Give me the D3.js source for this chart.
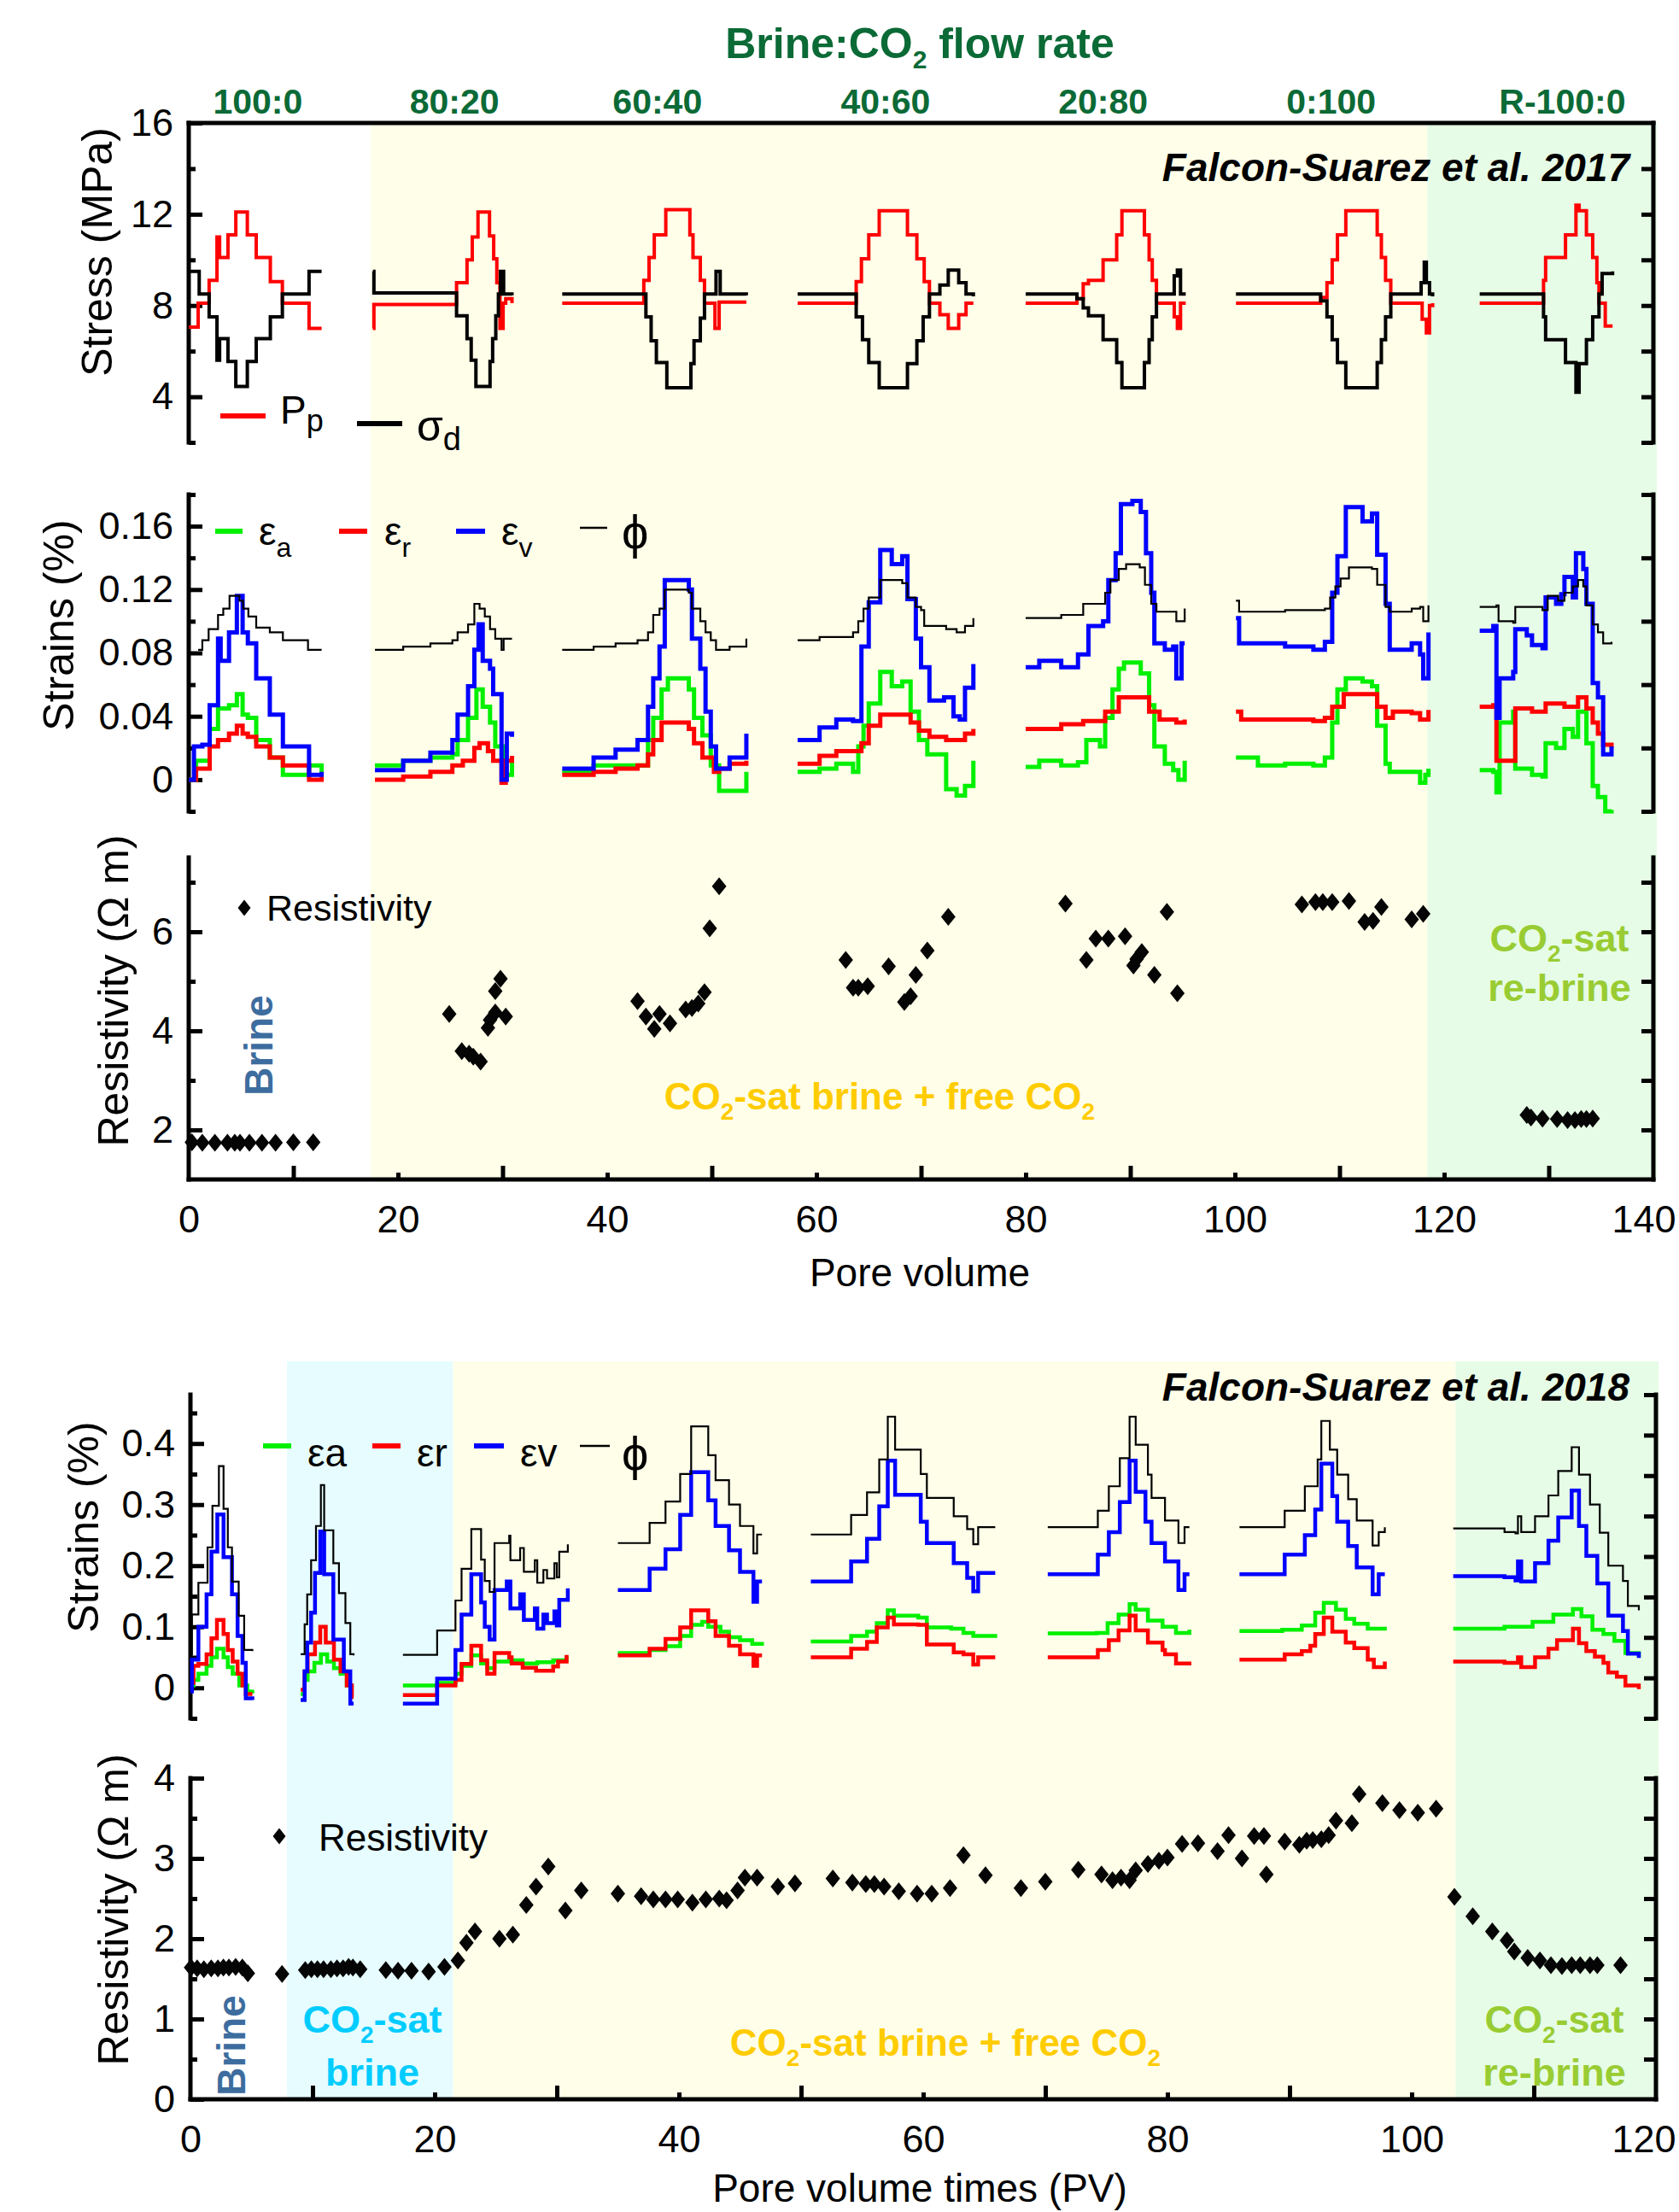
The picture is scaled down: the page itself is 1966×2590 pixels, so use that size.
<!DOCTYPE html>
<html>
<head>
<meta charset="utf-8">
<script src="https://cdn.jsdelivr.net/npm/d3@7"></script>
<style>
html, body { margin: 0; padding: 0; background: #ffffff; }
svg { display: block; }
</style>
</head>
<body>
<svg id="chart" width="1966" height="2590"></svg>
<script>
// ---------------------------------------------------------------
// Data: Falcon-Suarez et al. 2017 (x = pore volume)
// Each series is a list of flooding stages; each stage is [PV, value] steps.
// ---------------------------------------------------------------
const flowRates2017 = ["100:0", "80:20", "60:40", "40:60", "20:80", "0:100", "R-100:0"];
const flowRatePV2017 = [6.6, 25.4, 44.8, 66.6, 87.4, 109.2, 131.3];
const pvTicks2017 = [0, 20, 40, 60, 80, 100, 120, 140];
const zones2017 = [[17.4, 118.4, "mix"], [118.4, 140, "rebrine"]];

// Pore pressure Pp (MPa)
const porePressure2017 = [
  [[0,7.05],[0.9,8.1],[1.95,9.1],[2.7,11.0],[2.95,10.1],[3.75,11.1],[4.5,12.1],[5.6,11.1],[6.45,10.1],[7.8,9.05],[8.95,8.1],[11.5,7.0],[12.7,7.0]],
  [[17.6,7.0],[17.7,8.05],[25.6,9.0],[26.6,10.0],[27.1,11.0],[27.65,12.1],[28.75,11.05],[29.15,10.05],[29.45,9.0],[29.75,7.0],[30.05,8.1],[30.3,8.3],[30.9,8.1]],
  [[35.7,8.1],[43.5,9.1],[44.0,10.1],[44.5,11.1],[45.6,12.2],[47.9,11.1],[48.2,10.1],[48.9,9.1],[49.3,8.1],[50.3,7.0],[50.7,8.15],[53.3,8.15]],
  [[58.2,8.1],[63.8,9.05],[64.3,10.05],[65.0,11.1],[66.0,12.15],[68.7,11.1],[69.6,10.05],[70.3,9.05],[70.8,8.1],[71.8,7.6],[72.6,7.0],[73.6,7.6],[74.3,8.1],[75.0,8.1]],
  [[80.0,8.1],[84.9,8.3],[85.5,8.95],[86.0,9.1],[87.4,10.0],[88.7,11.1],[89.2,12.15],[91.35,11.1],[91.8,10.0],[92.1,9.1],[92.5,8.1],[94.2,7.5],[94.5,7.0],[94.8,8.1],[95.3,8.1]],
  [[100.1,8.1],[108.2,8.35],[108.8,9.0],[109.3,10.0],[109.8,11.1],[110.6,12.15],[113.6,11.1],[114.0,10.1],[114.4,9.1],[114.9,8.1],[117.9,7.4],[118.3,6.8],[118.6,8.0],[118.9,8.1]],
  [[123.4,8.1],[129.5,9.1],[129.7,10.1],[131.6,11.1],[132.6,12.4],[132.9,12.15],[133.6,11.1],[134.2,10.1],[134.6,9.0],[134.8,8.1],[135.4,7.1],[136.1,7.1]]
];
// Differential stress sigma_d (MPa)
const diffStress2017 = [
  [[0,9.5],[1.0,8.5],[1.95,7.5],[2.7,5.6],[2.95,6.55],[3.75,5.55],[4.5,4.45],[5.6,5.55],[6.45,6.55],[7.8,7.5],[8.95,8.5],[11.5,9.5],[12.7,9.5]],
  [[17.6,9.5],[17.7,8.55],[25.6,7.55],[26.6,6.55],[27.0,5.6],[27.45,4.45],[28.8,5.55],[29.05,6.55],[29.35,7.55],[29.6,8.5],[29.8,9.5],[30.1,8.5],[30.9,8.45]],
  [[35.7,8.5],[43.7,7.5],[44.2,6.45],[44.7,5.5],[45.7,4.4],[48.0,5.45],[48.3,6.45],[48.9,7.45],[49.3,8.5],[50.4,9.5],[50.8,8.5],[53.3,8.45]],
  [[58.2,8.5],[63.8,7.5],[64.4,6.5],[65.0,5.5],[66.0,4.4],[68.7,5.45],[69.6,6.45],[70.2,7.5],[70.8,8.5],[71.8,8.9],[72.6,9.55],[73.6,9.0],[74.3,8.5],[75.0,8.4]],
  [[80.0,8.5],[84.9,8.3],[85.5,7.9],[86.0,7.55],[87.4,6.5],[88.7,5.5],[89.2,4.4],[91.35,5.5],[91.8,6.5],[92.1,7.5],[92.5,8.5],[94.2,9.3],[94.5,9.55],[94.8,8.5],[95.3,8.5]],
  [[100.1,8.5],[108.2,8.2],[108.8,7.5],[109.3,6.5],[109.8,5.5],[110.6,4.4],[113.6,5.5],[114.0,6.5],[114.4,7.5],[114.9,8.5],[117.8,9.0],[118.1,9.9],[118.3,9.0],[118.6,8.5],[118.9,8.4]],
  [[123.4,8.5],[129.5,7.5],[129.7,6.5],[131.6,5.5],[132.6,4.2],[132.9,5.45],[133.6,6.5],[134.2,7.5],[134.8,8.5],[135.1,9.4],[136.1,9.5]]
];
// Axial strain (%)
const axialStrain2017 = [
  [[0,0],[0.7,0.012],[2.0,0.032],[2.8,0.045],[3.85,0.047],[4.6,0.054],[5.15,0.041],[5.65,0.039],[6.45,0.025],[7.75,0.014],[9.0,0.003],[11.3,0.003],[11.5,0.009],[12.7,0.004]],
  [[17.8,0.009],[20.5,0.012],[23.1,0.014],[25.2,0.016],[25.7,0.025],[26.7,0.039],[27.5,0.057],[28.1,0.046],[28.8,0.036],[29.3,0.021],[30.1,0.003],[30.9,0.014]],
  [[35.7,0.005],[38.7,0.009],[42.9,0.009],[43.9,0.025],[44.4,0.039],[45.2,0.057],[45.8,0.064],[47.8,0.057],[48.3,0.039],[49.1,0.028],[49.9,0.009],[50.7,-0.007],[53.3,0.005]],
  [[58.2,0.005],[60.3,0.007],[61.9,0.01],[63.5,0.005],[64.0,0.021],[64.5,0.034],[65.0,0.048],[66.1,0.068],[67.2,0.059],[68.2,0.062],[69.0,0.043],[69.8,0.025],[70.6,0.016],[72.4,-0.006],[73.4,-0.01],[74.2,-0.004],[75.0,0.012]],
  [[80.0,0.008],[81.3,0.012],[83.4,0.009],[85.0,0.011],[85.8,0.025],[87.1,0.021],[87.6,0.039],[88.3,0.057],[88.9,0.07],[89.4,0.074],[91.0,0.067],[91.8,0.047],[92.3,0.021],[93.3,0.01],[94.1,0.006],[94.6,0.0],[95.2,0.012]],
  [[100.1,0.014],[102.2,0.009],[104.8,0.01],[107.5,0.009],[108.6,0.014],[109.3,0.036],[109.8,0.057],[110.6,0.064],[112.2,0.062],[113.1,0.059],[113.6,0.034],[114.4,0.01],[114.8,0.005],[116.9,0.005],[117.7,-0.002],[118.2,0.003],[118.5,0.007]],
  [[123.4,0.006],[124.7,0.005],[125.0,-0.008],[125.3,0.036],[126.6,0.043],[126.8,0.007],[128.4,0.003],[129.4,0.002],[129.7,0.023],[130.7,0.02],[131.5,0.032],[132.3,0.027],[132.8,0.043],[133.6,0.023],[134.2,-0.004],[134.7,-0.011],[135.4,-0.02],[136.0,-0.019]]
];
// Radial strain (%)
const radialStrain2017 = [
  [[0,0],[0.7,0.007],[2.0,0.021],[2.8,0.025],[3.85,0.029],[4.6,0.034],[5.15,0.029],[5.65,0.027],[6.45,0.021],[7.75,0.014],[9.0,0.009],[11.3,0.009],[11.5,0.0],[12.7,0.002]],
  [[17.8,0.0],[20.5,0.002],[23.1,0.005],[25.2,0.009],[26.2,0.012],[27.3,0.02],[27.8,0.023],[28.6,0.018],[29.1,0.012],[29.9,-0.002],[30.3,0.012],[30.9,0.015]],
  [[35.7,0.003],[38.7,0.005],[40.8,0.007],[42.9,0.009],[43.9,0.016],[44.4,0.025],[45.2,0.036],[47.8,0.032],[48.3,0.023],[49.1,0.014],[50.2,0.005],[50.7,0.007],[51.7,0.01],[53.3,0.012]],
  [[58.2,0.01],[60.3,0.015],[61.9,0.018],[63.5,0.018],[64.3,0.023],[65.0,0.034],[66.1,0.041],[68.2,0.041],[69.0,0.036],[69.8,0.031],[70.8,0.027],[72.4,0.025],[74.2,0.029],[75.0,0.032]],
  [[80.0,0.032],[83.4,0.035],[85.5,0.037],[87.6,0.043],[88.9,0.052],[90.8,0.052],[91.8,0.043],[92.8,0.038],[94.4,0.036],[95.2,0.038]],
  [[100.1,0.043],[100.6,0.038],[107.5,0.037],[108.6,0.039],[109.3,0.046],[110.4,0.054],[113.1,0.054],[113.6,0.046],[114.4,0.039],[115.1,0.043],[116.9,0.042],[117.7,0.038],[118.5,0.044]],
  [[123.4,0.046],[124.7,0.047],[125.0,0.012],[126.6,0.012],[126.8,0.045],[128.4,0.043],[129.7,0.048],[131.5,0.046],[132.8,0.052],[133.6,0.045],[134.2,0.036],[134.7,0.029],[135.2,0.022],[136.0,0.02]]
];
// Volumetric strain (%)
const volStrain2017 = [
  [[0,0],[0.5,0.021],[1.3,0.022],[2.0,0.047],[2.8,0.089],[3.05,0.075],[3.85,0.093],[4.6,0.116],[5.15,0.093],[5.65,0.086],[6.45,0.064],[7.75,0.041],[9.0,0.021],[11.3,0.021],[11.5,0.003],[12.7,0.005]],
  [[17.8,0.006],[20.5,0.012],[23.1,0.017],[25.2,0.025],[25.7,0.041],[26.7,0.059],[27.3,0.082],[27.7,0.098],[28.1,0.075],[28.8,0.07],[29.1,0.054],[29.9,0.0],[30.4,0.029],[30.9,0.027]],
  [[35.7,0.007],[38.7,0.014],[40.8,0.019],[42.9,0.025],[43.9,0.046],[44.4,0.064],[45.0,0.084],[45.5,0.126],[47.8,0.12],[48.1,0.089],[48.9,0.07],[49.4,0.043],[49.9,0.021],[50.4,0.007],[51.7,0.014],[53.3,0.029]],
  [[58.2,0.025],[60.3,0.033],[61.9,0.038],[63.5,0.037],[64.3,0.084],[65.0,0.112],[66.1,0.145],[67.2,0.136],[68.2,0.141],[68.7,0.114],[69.5,0.089],[70.0,0.071],[70.8,0.05],[72.2,0.052],[73.1,0.04],[73.7,0.038],[74.2,0.058],[75.0,0.073]],
  [[80.0,0.071],[81.3,0.075],[83.4,0.071],[85.0,0.079],[86.0,0.097],[87.4,0.1],[87.9,0.126],[88.6,0.143],[89.1,0.174],[90.2,0.176],[91.0,0.169],[91.5,0.143],[92.0,0.118],[92.3,0.086],[93.3,0.082],[94.1,0.084],[94.4,0.064],[94.9,0.086],[95.2,0.086]],
  [[100.1,0.102],[100.4,0.086],[104.8,0.084],[107.5,0.082],[108.6,0.087],[109.3,0.118],[109.8,0.141],[110.6,0.172],[112.2,0.163],[113.1,0.168],[113.6,0.142],[114.4,0.111],[114.8,0.082],[116.9,0.086],[117.7,0.079],[118.0,0.064],[118.5,0.093]],
  [[123.4,0.094],[124.7,0.097],[125.0,0.039],[125.3,0.064],[126.6,0.068],[126.8,0.095],[127.9,0.091],[128.4,0.085],[129.4,0.083],[129.7,0.115],[130.7,0.111],[131.2,0.117],[131.5,0.128],[132.3,0.115],[132.6,0.143],[133.3,0.133],[133.6,0.111],[134.2,0.061],[134.7,0.052],[135.2,0.016],[136.0,0.021]]
];
// Porosity change phi (%)
const porosity2017 = [
  [[0.9,0.082],[1.3,0.088],[1.9,0.095],[2.8,0.104],[3.3,0.108],[3.9,0.116],[4.85,0.113],[5.2,0.108],[5.7,0.103],[6.45,0.096],[7.75,0.093],[9.0,0.088],[11.4,0.082],[12.7,0.082]],
  [[17.8,0.082],[20.5,0.084],[23.1,0.086],[25.2,0.088],[25.7,0.093],[26.7,0.098],[27.3,0.111],[27.8,0.108],[28.3,0.103],[28.8,0.095],[29.3,0.089],[29.9,0.082],[30.1,0.089],[30.9,0.089]],
  [[35.7,0.082],[38.7,0.084],[40.8,0.086],[42.9,0.088],[43.9,0.093],[44.4,0.104],[45.0,0.108],[45.5,0.12],[47.8,0.118],[48.1,0.108],[48.9,0.1],[49.4,0.093],[49.9,0.088],[50.4,0.082],[51.7,0.084],[53.3,0.089]],
  [[58.2,0.088],[60.3,0.09],[63.5,0.093],[64.0,0.1],[64.5,0.108],[65.0,0.115],[66.1,0.126],[68.2,0.124],[68.7,0.115],[69.5,0.109],[70.0,0.107],[70.3,0.097],[72.4,0.095],[73.4,0.093],[74.2,0.097],[75.0,0.102]],
  [[80.0,0.102],[83.4,0.104],[85.5,0.111],[87.6,0.118],[88.1,0.126],[88.9,0.133],[89.6,0.136],[90.9,0.134],[91.4,0.123],[92.0,0.111],[92.5,0.106],[93.8,0.106],[94.4,0.1],[95.2,0.108]],
  [[100.1,0.113],[100.4,0.106],[104.8,0.107],[108.6,0.108],[109.1,0.115],[109.6,0.122],[110.1,0.127],[110.9,0.134],[113.1,0.133],[113.6,0.123],[114.4,0.109],[114.8,0.106],[116.9,0.108],[117.7,0.109],[118.0,0.1],[118.5,0.11]],
  [[123.4,0.109],[125.0,0.11],[125.2,0.1],[126.6,0.099],[126.8,0.109],[129.4,0.107],[129.9,0.116],[130.9,0.113],[131.5,0.118],[132.3,0.122],[132.8,0.126],[133.3,0.122],[133.6,0.11],[134.2,0.098],[134.7,0.093],[135.2,0.086],[136.0,0.087]]
];
// Electrical resistivity (ohm m)
const resistivity2017 = [
  [0.3,1.75],[1.3,1.74],[2.5,1.74],[3.7,1.74],[4.4,1.74],[4.9,1.74],[5.8,1.74],[7.0,1.74],[8.3,1.74],[10.0,1.75],[11.9,1.75],
  [24.9,4.34],[26.1,3.59],[26.8,3.54],[27.2,3.48],[27.9,3.38],[28.6,4.06],[28.8,4.22],[29.3,4.37],[29.3,4.8],[29.8,5.05],[30.3,4.29],
  [42.9,4.6],[43.7,4.29],[44.5,4.04],[45.0,4.34],[46.0,4.15],[47.5,4.43],[48.1,4.46],[48.7,4.55],[49.3,4.78],[49.8,6.07],[50.7,6.92],
  [62.8,5.43],[63.5,4.87],[64.0,4.87],[64.9,4.9],[66.9,5.3],[68.4,4.58],[69.0,4.7],[69.5,5.13],[70.6,5.62],[72.6,6.3],
  [83.8,6.57],[85.8,5.43],[86.7,5.86],[87.9,5.86],[89.5,5.91],[90.3,5.32],[90.6,5.45],[91.1,5.59],[92.3,5.13],[93.5,6.4],[94.5,4.76],
  [106.4,6.55],[107.7,6.6],[108.4,6.6],[109.3,6.6],[110.9,6.62],[112.4,6.2],[113.2,6.22],[114.0,6.5],[116.9,6.25],[118.0,6.36],
  [127.9,2.3],[128.3,2.25],[129.4,2.23],[130.8,2.22],[131.8,2.2],[132.5,2.2],[133.1,2.22],[133.6,2.22],[134.2,2.23]
];

// ---------------------------------------------------------------
// Data: Falcon-Suarez et al. 2018 (x = pore volume times)
// ---------------------------------------------------------------
const pvTicks2018 = [0, 20, 40, 60, 80, 100, 120];
const zones2018 = [[7.9, 21.5, "sat"], [21.5, 103.6, "mix"], [103.6, 120, "rebrine"]];

const axialStrain2018 = [
  [[0,0.004],[0.25,0.013],[0.65,0.023],[1.32,0.036],[1.72,0.05],[2.17,0.064],[2.71,0.05],[3.06,0.034],[3.46,0.023],[4.0,0.004],[4.66,-0.006],[5.07,-0.003]],
  [[9.03,-0.01],[9.35,0.013],[9.6,0.027],[10.15,0.041],[10.68,0.055],[11.2,0.043],[11.75,0.032],[12.29,0.023],[12.8,0.004],[13.36,0.004]],
  [[17.4,0.004],[20.2,0.008],[21.7,0.023],[22.2,0.036],[23.0,0.053],[23.8,0.04],[24.3,0.032],[24.9,0.043],[26.1,0.045],[27.2,0.04],[28.4,0.042],[29.7,0.045],[30.8,0.052]],
  [[35.0,0.057],[37.6,0.062],[38.9,0.068],[40.1,0.085],[41.0,0.103],[41.9,0.108],[42.4,0.1],[43.4,0.092],[44.1,0.083],[45.0,0.078],[46.0,0.072],[46.8,0.075]],
  [[50.8,0.076],[54.1,0.085],[55.4,0.092],[56.2,0.106],[57.1,0.127],[57.6,0.118],[59.6,0.115],[60.3,0.099],[62.3,0.097],[63.3,0.09],[64.1,0.085],[65.9,0.088]],
  [[70.2,0.089],[74.2,0.09],[75.1,0.106],[76.0,0.12],[76.9,0.137],[77.4,0.128],[78.4,0.11],[79.6,0.1],[80.7,0.09],[81.8,0.095]],
  [[85.9,0.093],[89.4,0.095],[91.0,0.102],[92.1,0.123],[92.8,0.139],[93.8,0.128],[94.6,0.113],[95.3,0.105],[96.4,0.097],[97.8,0.1]],
  [[103.4,0.097],[107.6,0.1],[109.9,0.108],[111.6,0.12],[113.2,0.129],[113.9,0.117],[114.8,0.095],[115.7,0.088],[116.6,0.077],[117.5,0.057],[118.6,0.05]]
];
const radialStrain2018 = [
  [[0,0.008],[0.25,0.036],[0.65,0.039],[1.32,0.055],[1.72,0.081],[2.17,0.111],[2.71,0.088],[3.06,0.062],[3.46,0.043],[3.86,0.023],[4.26,0.004],[4.53,-0.01],[5.07,-0.01]],
  [[9.03,-0.003],[9.35,0.027],[9.6,0.055],[10.2,0.074],[10.63,0.1],[11.08,0.074],[11.75,0.046],[12.29,0.027],[12.8,0.004],[13.22,-0.015],[13.36,-0.015]],
  [[17.4,-0.012],[20.2,0.004],[21.7,0.013],[22.2,0.039],[23.0,0.069],[23.8,0.045],[24.3,0.023],[24.9,0.057],[26.1,0.05],[26.3,0.04],[27.2,0.033],[28.3,0.028],[29.7,0.035],[30.1,0.043],[30.8,0.054]],
  [[35.0,0.053],[37.6,0.064],[38.9,0.08],[40.1,0.099],[41.0,0.127],[42.4,0.109],[43.0,0.085],[44.1,0.069],[45.0,0.055],[46.1,0.036],[46.4,0.053],[46.8,0.053]],
  [[50.8,0.05],[54.1,0.064],[55.4,0.075],[56.2,0.099],[57.1,0.115],[57.6,0.104],[59.6,0.103],[60.3,0.071],[62.5,0.058],[63.3,0.055],[64.1,0.038],[64.5,0.05],[65.9,0.05]],
  [[70.2,0.05],[74.3,0.062],[75.2,0.078],[76.0,0.094],[76.9,0.118],[77.4,0.094],[78.4,0.074],[79.6,0.062],[79.8,0.055],[80.7,0.04],[81.8,0.043]],
  [[85.9,0.046],[89.6,0.055],[91.0,0.06],[91.7,0.069],[92.1,0.088],[92.8,0.115],[93.5,0.092],[94.6,0.074],[95.3,0.065],[96.4,0.046],[96.9,0.034],[97.8,0.043]],
  [[103.4,0.043],[107.6,0.041],[108.7,0.05],[108.97,0.034],[110.1,0.05],[111.2,0.064],[111.9,0.078],[113.2,0.097],[113.7,0.073],[114.3,0.06],[115.0,0.051],[115.7,0.041],[116.1,0.025],[116.8,0.018],[117.5,0.004],[118.6,-0.002]]
];
const volStrain2018 = [
  [[0,-0.006],[0.12,0.046],[0.65,0.1],[1.32,0.153],[1.72,0.223],[2.2,0.284],[2.71,0.214],[3.4,0.153],[3.86,0.085],[4.26,0.041],[4.53,-0.017],[5.07,-0.02]],
  [[9.03,-0.02],[9.35,0.027],[9.56,0.074],[9.88,0.123],[10.2,0.188],[10.63,0.256],[10.95,0.186],[11.7,0.079],[12.56,0.027],[13.09,-0.026],[13.36,-0.026]],
  [[17.4,-0.026],[20.2,0.015],[21.7,0.062],[22.2,0.12],[23.0,0.186],[23.8,0.14],[24.1,0.1],[24.5,0.079],[24.9,0.16],[25.9,0.174],[26.2,0.13],[27.0,0.153],[27.3,0.111],[28.2,0.13],[28.4,0.097],[28.9,0.12],[29.2,0.106],[29.8,0.125],[30.0,0.102],[30.2,0.144],[30.9,0.163]],
  [[35.0,0.16],[37.6,0.195],[38.9,0.227],[40.1,0.283],[41.0,0.353],[42.4,0.307],[43.0,0.265],[44.1,0.225],[45.0,0.19],[46.1,0.141],[46.4,0.174],[46.8,0.174]],
  [[50.8,0.174],[54.1,0.207],[55.4,0.244],[56.4,0.297],[57.1,0.372],[57.7,0.316],[59.8,0.272],[60.3,0.237],[62.5,0.204],[63.6,0.18],[64.1,0.158],[64.5,0.188],[65.9,0.188]],
  [[70.2,0.186],[74.3,0.218],[75.2,0.255],[76.1,0.304],[76.9,0.372],[77.4,0.321],[78.2,0.272],[78.7,0.237],[79.8,0.207],[80.9,0.16],[81.4,0.186],[81.8,0.186]],
  [[85.9,0.186],[89.6,0.218],[91.25,0.25],[92.1,0.292],[92.6,0.367],[93.5,0.314],[93.9,0.272],[94.8,0.232],[95.5,0.197],[96.8,0.153],[97.3,0.186],[97.8,0.186]],
  [[103.4,0.183],[107.6,0.181],[108.5,0.176],[108.7,0.207],[108.97,0.174],[110.1,0.204],[111.2,0.241],[112.0,0.279],[113.1,0.323],[113.7,0.265],[114.3,0.216],[115.2,0.171],[116.1,0.118],[117.3,0.093],[117.7,0.056],[118.6,0.049]]
];
const porosity2018 = [
  [[0,0.055],[0.12,0.12],[0.65,0.172],[1.4,0.23],[1.8,0.298],[2.33,0.363],[2.71,0.293],[3.06,0.23],[3.4,0.174],[3.95,0.118],[4.4,0.062],[5.07,0.06]],
  [[9.03,0.055],[9.35,0.104],[9.56,0.153],[9.88,0.209],[10.28,0.265],[10.68,0.332],[10.95,0.258],[11.7,0.204],[12.16,0.155],[12.69,0.106],[13.09,0.055],[13.36,0.053]],
  [[17.4,0.054],[20.2,0.094],[21.7,0.143],[22.2,0.195],[23.0,0.26],[23.8,0.21],[24.1,0.175],[24.5,0.157],[24.9,0.237],[26.1,0.249],[26.2,0.209],[27.0,0.229],[27.3,0.19],[28.2,0.209],[28.4,0.172],[28.9,0.193],[29.2,0.179],[29.8,0.204],[30.0,0.181],[30.2,0.223],[30.9,0.235]],
  [[35.0,0.237],[37.6,0.27],[38.9,0.305],[40.1,0.35],[41.0,0.428],[42.4,0.381],[43.0,0.34],[44.1,0.3],[45.0,0.265],[46.1,0.22],[46.4,0.251],[46.8,0.251]],
  [[50.8,0.251],[54.1,0.283],[55.4,0.32],[56.4,0.374],[57.1,0.444],[57.7,0.39],[59.8,0.35],[60.3,0.311],[62.5,0.281],[63.6,0.26],[64.1,0.235],[64.5,0.263],[65.9,0.263]],
  [[70.2,0.263],[74.3,0.29],[75.2,0.33],[76.1,0.376],[76.9,0.444],[77.4,0.398],[78.4,0.349],[78.7,0.311],[79.8,0.274],[80.9,0.237],[81.4,0.263],[81.8,0.263]],
  [[85.9,0.263],[89.6,0.29],[91.25,0.33],[92.3,0.374],[92.6,0.437],[93.3,0.39],[93.9,0.349],[94.8,0.309],[95.5,0.274],[96.8,0.233],[97.3,0.255],[97.8,0.263]],
  [[103.4,0.261],[107.6,0.255],[108.5,0.253],[108.7,0.281],[108.97,0.255],[110.1,0.281],[111.2,0.315],[112.0,0.355],[113.1,0.394],[113.7,0.349],[114.6,0.3],[115.4,0.254],[116.1,0.2],[117.3,0.175],[117.7,0.134],[118.6,0.127]]
];
const resistivity2018 = [
  [0.05,1.64],[0.55,1.63],[1.1,1.62],[1.7,1.63],[2.25,1.63],[2.7,1.64],[3.15,1.64],[3.7,1.65],[4.25,1.64],[4.7,1.57],
  [7.5,1.56],
  [9.4,1.61],[9.9,1.62],[10.4,1.62],[10.9,1.62],[11.5,1.62],[12.0,1.63],[12.5,1.63],[12.95,1.65],[13.3,1.64],[13.9,1.62],
  [16.0,1.61],[17.0,1.6],[18.1,1.6],[19.5,1.59],[20.8,1.65],[21.9,1.73],[22.6,1.95],[23.3,2.09],[25.3,2.0],[26.4,2.05],[27.5,2.42],[28.3,2.65],[29.3,2.9],[30.7,2.35],[32.0,2.6],
  [35.0,2.56],[36.9,2.53],[37.9,2.49],[38.9,2.49],[39.9,2.49],[41.1,2.45],[42.2,2.49],[43.3,2.5],[43.9,2.48],[44.8,2.6],[45.4,2.76],[46.4,2.76],[48.1,2.65],[49.5,2.69],
  [52.6,2.75],[54.2,2.7],[55.3,2.68],[56.0,2.68],[56.8,2.65],[58.0,2.59],[59.5,2.56],[60.7,2.56],[62.2,2.63],[63.3,3.04],[65.1,2.79],[68.0,2.63],[70.0,2.71],[72.7,2.86],[74.6,2.8],[75.5,2.73],[76.2,2.76],[76.9,2.73],[77.4,2.85],[78.4,2.93],[79.3,2.97],[80.0,3.01],[81.2,3.18],[82.5,3.19],[84.1,3.09],[85.0,3.29],[86.1,3.0],[87.1,3.28],[87.9,3.28],[88.1,2.8],[89.6,3.21],[90.8,3.17],[91.4,3.22],[91.9,3.23],[92.6,3.24],[93.2,3.29],[93.8,3.47],[95.1,3.44],[95.7,3.8],[97.6,3.69],[99.0,3.6],[100.5,3.57],[102.0,3.62],
  [103.5,2.52],[105.0,2.28],[106.6,2.09],[107.8,1.98],[108.4,1.84],[109.5,1.76],[110.5,1.73],[111.4,1.67],[112.3,1.66],[113.1,1.67],[113.8,1.67],[114.6,1.67],[115.2,1.67],[117.1,1.67]
];

// ---------------------------------------------------------------
// Styling
// ---------------------------------------------------------------
const FONT = '"Liberation Sans", Arial, Helvetica, sans-serif';
const zoneFill = { mix: "#fefee9", rebrine: "#e6fce6", sat: "#e6fcfe" };
const COL = {
  flow: "#0b6a36", brine: "#3d6d9e", gold: "#ffcc00", lime: "#99cc33", sky: "#00ccff",
  ea: "#00f000", er: "#ff0000", ev: "#0000ff", phi: "#000000", pp: "#ff0000", sd: "#000000"
};
const PAGE_RIGHT = 1962;

const svg = d3.select("#chart");
svg.append("rect").attr("width", 1966).attr("height", 2590).attr("fill", "#ffffff");

// Scales
const x17 = d3.scaleLinear().domain([0, 140]).range([221, 1936]);
const yStress = d3.scaleLinear().domain([2, 16]).range([518, 144]);
const yStrain17 = d3.scaleLinear().domain([-0.02, 0.18]).range([950, 579]);
const yRes17 = d3.scaleLinear().domain([1, 7.5]).range([1381, 1004]);

const x18 = d3.scaleLinear().domain([0, 120]).range([223, 1939]);
const yStrain18 = d3.scaleLinear().domain([-0.05, 0.48]).range([2012, 1633]);
const yStrain18R = d3.scaleLinear().domain([0, 8]).range([2012, 1633]);
const yRes18 = d3.scaleLinear().domain([0, 4]).range([2458, 2082]);

// ---------------------------------------------------------------
// Helpers
// ---------------------------------------------------------------
function addText(g, x, y, size, opts = {}) {
  const t = g.append("text").attr("x", x).attr("y", y)
    .attr("font-family", FONT).attr("font-size", size)
    .attr("fill", opts.fill || "#000")
    .attr("text-anchor", opts.anchor || "start");
  if (opts.weight) t.attr("font-weight", opts.weight);
  if (opts.italic) t.attr("font-style", "italic");
  if (opts.transform) t.attr("transform", opts.transform);
  return t;
}
// parts: [text, isSub]
function rich(t, parts, subSize, subDy) {
  let down = false;
  parts.forEach(([s, sub]) => {
    const ts = t.append("tspan").text(s);
    if (sub) {
      ts.attr("font-size", subSize);
      if (!down) { ts.attr("dy", subDy); down = true; }
    } else if (down) {
      ts.attr("dy", -subDy); down = false;
    }
  });
  return t;
}
function styleTicks(g, w) {
  g.selectAll(".tick line").attr("stroke", "#000").attr("stroke-width", w);
  g.select(".domain").remove();
}
// vertical axis with ticks pointing into the plot
function vAxis(scale, x, side, majors, minors, fmt, majLen, minLen) {
  const gen = side === "left" ? d3.axisRight : d3.axisLeft;
  if (minors && minors.length) {
    const gm = svg.append("g").attr("transform", `translate(${x},0)`)
      .call(gen(scale).tickValues(minors).tickSize(minLen).tickSizeOuter(0).tickFormat(""));
    styleTicks(gm, 5);
  }
  if (majors && majors.length) {
    const gM = svg.append("g").attr("transform", `translate(${x},0)`)
      .call(gen(scale).tickValues(majors).tickSize(majLen).tickSizeOuter(0).tickFormat(""));
    styleTicks(gM, 5);
  }
  if (fmt) {
    const gl = svg.append("g").attr("transform", `translate(${x},0)`)
      .call(d3.axisLeft(scale).tickValues(majors).tickSize(0).tickPadding(18).tickFormat(fmt));
    gl.select(".domain").remove();
    gl.attr("font-family", FONT).attr("font-size", 45);
    gl.selectAll("text").attr("fill", "#000");
  }
  const r = scale.range();
  svg.append("line").attr("x1", x).attr("x2", x).attr("y1", r[0]).attr("y2", r[1])
    .attr("stroke", "#000").attr("stroke-width", 5).attr("stroke-linecap", "square");
}
function xAxisBottom(xs, y, labelTicks, tallTicks, shortTicks) {
  const gT = svg.append("g").attr("transform", `translate(0,${y})`)
    .call(d3.axisTop(xs).tickValues(tallTicks).tickSize(16).tickSizeOuter(0).tickFormat(""));
  styleTicks(gT, 5);
  const gS = svg.append("g").attr("transform", `translate(0,${y})`)
    .call(d3.axisTop(xs).tickValues(shortTicks).tickSize(8).tickSizeOuter(0).tickFormat(""));
  styleTicks(gS, 5);
  const gL = svg.append("g").attr("transform", `translate(0,${y})`)
    .call(d3.axisBottom(xs).tickValues(labelTicks).tickSize(0).tickPadding(30).tickFormat(d3.format("d")));
  gL.select(".domain").remove();
  gL.attr("font-family", FONT).attr("font-size", 45);
  gL.selectAll("text").attr("fill", "#000");
  // keep the last label inside the page edge
  const lastVal = labelTicks[labelTicks.length - 1];
  gL.selectAll(".tick").filter(d => d === lastVal).select("text")
    .attr("text-anchor", "end").attr("x", PAGE_RIGHT - xs(lastVal));
  const r = xs.range();
  svg.append("line").attr("x1", r[0]).attr("x2", r[1]).attr("y1", y).attr("y2", y)
    .attr("stroke", "#000").attr("stroke-width", 5).attr("stroke-linecap", "square");
}
function drawStages(stages, xs, ys, color, width) {
  const gen = d3.line().x(d => xs(d[0])).y(d => ys(d[1])).curve(d3.curveStepAfter);
  svg.append("g").selectAll("path").data(stages).join("path")
    .attr("d", gen).attr("fill", "none").attr("stroke", color)
    .attr("stroke-width", width).attr("stroke-linejoin", "miter");
}
function diamondPath(hw, hh) {
  return `M0,${-hh}L${hw},0L0,${hh}L${-hw},0Z`;
}
function drawDiamonds(points, xs, ys) {
  svg.append("g").selectAll("path").data(points).join("path")
    .attr("transform", d => `translate(${xs(d[0])},${ys(d[1])})`)
    .attr("d", diamondPath(8.5, 10.5)).attr("fill", "#050505");
}
function zones(list, xs, y0, y1, xEnd) {
  svg.append("g").selectAll("rect").data(list).join("rect")
    .attr("x", d => xs(d[0]))
    .attr("width", d => (d[1] >= xs.domain()[1] ? xEnd : xs(d[1])) - xs(d[0]))
    .attr("y", y0).attr("height", y1 - y0)
    .attr("fill", d => zoneFill[d[2]]);
}
function legendLine(x1, x2, y, color, w) {
  svg.append("line").attr("x1", x1).attr("x2", x2).attr("y1", y).attr("y2", y)
    .attr("stroke", color).attr("stroke-width", w);
}

// ---------------------------------------------------------------
// Figure 2017
// ---------------------------------------------------------------
zones(zones2017, x17, 144, 1381, 1940);

// Flow-rate header
rich(addText(svg, 1077, 68, 50, { anchor: "middle", weight: "bold", fill: COL.flow }),
  [["Brine:CO", false], ["2", true], [" flow rate", false]], 30, 12);
svg.append("g").selectAll("text").data(flowRates2017).join("text")
  .attr("x", (d, i) => x17(flowRatePV2017[i])).attr("y", 133)
  .attr("text-anchor", "middle").attr("font-family", FONT).attr("font-size", 41)
  .attr("font-weight", "bold").attr("fill", COL.flow).text(d => d);

// top frame line of the stress panel
svg.append("line").attr("x1", x17(0)).attr("x2", x17(140)).attr("y1", yStress(16)).attr("y2", yStress(16))
  .attr("stroke", "#000").attr("stroke-width", 5).attr("stroke-linecap", "square");

// Stress panel
vAxis(yStress, x17(0), "left", [4, 8, 12, 16], [2, 6, 10, 14], d3.format("d"), 16, 8);
vAxis(yStress, x17(140), "right", [2, 4, 6, 8, 10, 12, 14], [], null, 14, 0);
drawStages(porePressure2017, x17, yStress, COL.pp, 4);
drawStages(diffStress2017, x17, yStress, COL.sd, 4);

// Strain panel
vAxis(yStrain17, x17(0), "left", [0, 0.04, 0.08, 0.12, 0.16], [-0.02, 0.02, 0.06, 0.1, 0.14, 0.18],
  d => d === 0 ? "0" : d3.format(".2f")(d), 16, 8);
vAxis(yStrain17, x17(140), "right", [-0.02, 0.02, 0.06, 0.1, 0.14, 0.18], [], null, 14, 0);
drawStages(axialStrain2017, x17, yStrain17, COL.ea, 5);
drawStages(radialStrain2017, x17, yStrain17, COL.er, 5);
drawStages(volStrain2017, x17, yStrain17, COL.ev, 5);
drawStages(porosity2017, x17, yStrain17, COL.phi, 2.2);

// Resistivity panel
vAxis(yRes17, x17(0), "left", [2, 4, 6], [3, 5, 7], d3.format("d"), 16, 8);
vAxis(yRes17, x17(140), "right", [2, 3, 4, 5, 6, 7], [], null, 14, 0);
drawDiamonds(resistivity2017, x17, yRes17);
xAxisBottom(x17, 1381, pvTicks2017, [10, 30, 50, 70, 90, 110, 130], [20, 40, 60, 80, 100, 120]);

// Axis titles
addText(svg, 0, 0, 50, { anchor: "middle", transform: "translate(131,295) rotate(-90)" }).text("Stress (MPa)");
addText(svg, 0, 0, 50, { anchor: "middle", transform: "translate(86,732) rotate(-90)" }).text("Strains (%)");
addText(svg, 0, 0, 50, { anchor: "middle", transform: "translate(150,1160) rotate(-90)" }).text("Resistivity (Ω m)");
addText(svg, 1077, 1506, 46, { anchor: "middle" }).text("Pore volume");

// Reference label
addText(svg, 1908, 212, 46, { anchor: "end", weight: "bold", italic: true }).text("Falcon-Suarez et al. 2017");

// Legends
legendLine(258, 311, 487, COL.pp, 6);
rich(addText(svg, 328, 496, 46), [["P", false], ["p", true]], 36, 9);
legendLine(418, 471, 496, COL.sd, 6);
rich(addText(svg, 488, 516, 50), [["σ", false], ["d", true]], 38, 11);

legendLine(252, 284, 622, COL.ea, 6);
rich(addText(svg, 303, 638, 46), [["ε", false], ["a", true]], 32, 14);
legendLine(397, 430, 622, COL.er, 6);
rich(addText(svg, 450, 638, 46), [["ε", false], ["r", true]], 32, 14);
legendLine(534, 568, 622, COL.ev, 6);
rich(addText(svg, 587, 638, 46), [["ε", false], ["v", true]], 32, 14);
legendLine(679, 711, 618, COL.phi, 2.5);
addText(svg, 728, 642, 56).text("ϕ");

svg.append("path").attr("transform", "translate(286,1063)").attr("d", diamondPath(7.5, 9.5)).attr("fill", "#050505");
addText(svg, 312, 1078, 43).text("Resistivity");

// Region labels
addText(svg, 0, 0, 46, { anchor: "middle", weight: "bold", fill: COL.brine, transform: "translate(319,1224) rotate(-90)" }).text("Brine");
rich(addText(svg, 1030, 1299, 44, { anchor: "middle", weight: "bold", fill: COL.gold }),
  [["CO", false], ["2", true], ["-sat brine + free CO", false], ["2", true]], 28, 12);
rich(addText(svg, 1826, 1114, 45, { anchor: "middle", weight: "bold", fill: COL.lime }),
  [["CO", false], ["2", true], ["-sat", false]], 28, 12);
addText(svg, 1826, 1172, 45, { anchor: "middle", weight: "bold", fill: COL.lime }).text("re-brine");

// ---------------------------------------------------------------
// Figure 2018
// ---------------------------------------------------------------
zones(zones2018, x18, 1594, 2458, 1942);

vAxis(yStrain18, x18(0), "left", [0, 0.1, 0.2, 0.3, 0.4], [-0.05, 0.05, 0.15, 0.25, 0.35, 0.45],
  d => d === 0 ? "0" : d3.format(".1f")(d), 16, 8);
vAxis(yStrain18R, x18(120), "right", d3.range(0, 9), [], null, 14, 0);
drawStages(axialStrain2018, x18, yStrain18, COL.ea, 4.5);
drawStages(radialStrain2018, x18, yStrain18, COL.er, 4.5);
drawStages(volStrain2018, x18, yStrain18, COL.ev, 4.5);
drawStages(porosity2018, x18, yStrain18, COL.phi, 2.2);

vAxis(yRes18, x18(0), "left", [0, 1, 2, 3, 4], [0.5, 1.5, 2.5, 3.5], d3.format("d"), 16, 8);
vAxis(yRes18, x18(120), "right", [0.5, 1, 1.5, 2, 2.5, 3, 3.5, 4], [], null, 14, 0);
drawDiamonds(resistivity2018, x18, yRes18);
xAxisBottom(x18, 2458, pvTicks2018, [10, 30, 50, 70, 90, 110], [20, 40, 60, 80, 100]);

addText(svg, 0, 0, 50, { anchor: "middle", transform: "translate(115,1788) rotate(-90)" }).text("Strains (%)");
addText(svg, 0, 0, 50, { anchor: "middle", transform: "translate(150,2236) rotate(-90)" }).text("Resistivity (Ω m)");
addText(svg, 1077, 2578, 46, { anchor: "middle" }).text("Pore volume times (PV)");

addText(svg, 1908, 1640, 46, { anchor: "end", weight: "bold", italic: true }).text("Falcon-Suarez et al. 2018");

legendLine(308, 341, 1693, COL.ea, 6);
addText(svg, 360, 1717, 46).text("εa");
legendLine(436, 469, 1693, COL.er, 6);
addText(svg, 488, 1717, 46).text("εr");
legendLine(555, 590, 1693, COL.ev, 6);
addText(svg, 609, 1717, 46).text("εv");
legendLine(679, 714, 1693, COL.phi, 2.5);
addText(svg, 728, 1721, 56).text("ϕ");

svg.append("path").attr("transform", "translate(327,2150)").attr("d", diamondPath(7.5, 9.5)).attr("fill", "#050505");
addText(svg, 373, 2167, 44).text("Resistivity");

addText(svg, 0, 0, 46, { anchor: "middle", weight: "bold", fill: COL.brine, transform: "translate(287,2395) rotate(-90)" }).text("Brine");
rich(addText(svg, 436, 2380, 45, { anchor: "middle", weight: "bold", fill: COL.sky }),
  [["CO", false], ["2", true], ["-sat", false]], 28, 12);
addText(svg, 436, 2442, 45, { anchor: "middle", weight: "bold", fill: COL.sky }).text("brine");
rich(addText(svg, 1107, 2407, 44, { anchor: "middle", weight: "bold", fill: COL.gold }),
  [["CO", false], ["2", true], ["-sat brine + free CO", false], ["2", true]], 28, 12);
rich(addText(svg, 1820, 2380, 45, { anchor: "middle", weight: "bold", fill: COL.lime }),
  [["CO", false], ["2", true], ["-sat", false]], 28, 12);
addText(svg, 1820, 2442, 45, { anchor: "middle", weight: "bold", fill: COL.lime }).text("re-brine");
</script>
</body>
</html>
